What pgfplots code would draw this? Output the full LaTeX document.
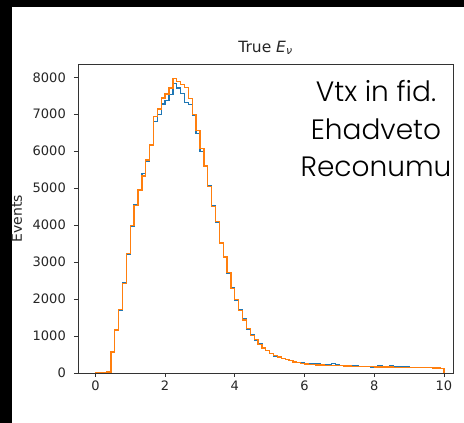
\documentclass[border=0pt]{standalone}
\usepackage{fontspec}
\setmainfont{DejaVu Sans}
\newfontfamily\ral{Poppins Light}
\usepackage{pgfplots}
\pgfplotsset{compat=1.18}
\usepackage{pgfplotstable}
\definecolor{mplblue}{HTML}{1F77B4}
\definecolor{mplorange}{HTML}{FF7F0E}
\definecolor{tickgray}{HTML}{262626}

% bin left edges (90 bins of 1/9 between 0 and 10), last row closes the step
\pgfplotstableread{
x      orange blue
0.0000 0    0
0.1111 0    0
0.2222 0    0
0.3333 30   40
0.4444 570  590
0.5556 1160 1150
0.6667 1720 1700
0.7778 2420 2440
0.8889 3240 3220
1.0000 3990 3960
1.1111 4540 4560
1.2222 4950 4930
1.3333 5330 5400
1.4444 5760 5720
1.5556 6170 6150
1.6667 6940 6800
1.7778 7140 7000
1.8889 7440 7280
2.0000 7550 7380
2.1111 7710 7530
2.2222 7960 7840
2.3333 7890 7710
2.4444 7800 7560
2.5556 7720 7320
2.6667 7420 7260
2.7778 7000 6960
2.8889 6560 6480
3.0000 6080 6000
3.1111 5600 5580
3.2222 5040 5060
3.3333 4500 4520
3.4444 4090 4070
3.5556 3520 3540
3.6667 3140 3160
3.7778 2710 2690
3.8889 2290 2320
4.0000 1990 1970
4.1111 1700 1720
4.2222 1430 1480
4.3333 1200 1180
4.4444 1020 1040
4.5556 900  880
4.6667 780  790
4.7778 680  660
4.8889 600  610
5.0000 520  530
5.1111 470  460
5.2222 430  440
5.3333 390  390
5.4444 360  370
5.5556 330  340
5.6667 300  320
5.7778 280  290
5.8889 255  270
6.0000 240  260
6.1111 230  250
6.2222 225  240
6.3333 220  260
6.4444 215  230
6.5556 210  225
6.6667 205  230
6.7778 205  260
6.8889 200  230
7.0000 195  210
7.1111 190  200
7.2222 190  195
7.3333 185  195
7.4444 185  190
7.5556 180  185
7.6667 180  180
7.7778 175  170
7.8889 170  165
8.0000 165  175
8.1111 165  200
8.2222 160  170
8.3333 160  180
8.4444 160  200
8.5556 155  170
8.6667 155  165
8.7778 150  160
8.8889 150  160
9.0000 150  155
9.1111 145  155
9.2222 145  150
9.3333 140  150
9.4444 140  150
9.5556 140  145
9.6667 135  140
9.7778 135  135
9.8889 130  130
10.0000 130 130
10.0000 0   0
}\hist

\begin{document}
\begin{tikzpicture}
\fill[black] (0pt,0pt) rectangle (464pt,423pt);
\fill[white] (12pt,0pt) rectangle (464pt,416pt);
\useasboundingbox (0pt,0pt) rectangle (464pt,423pt);
\begin{axis}[
    at={(78pt,50pt)}, anchor=south west,
    scale only axis,
    width=375pt, height=309pt,
    xmin=-0.5, xmax=10.26,
    ymin=0, ymax=8360,
    xtick={0,2,4,6,8,10},
    ytick={0,1000,2000,3000,4000,5000,6000,7000,8000},
    tick align=outside,
    tick pos=left,
    major tick length=4pt,
    tick style={black!80, line width=0.8pt},
    axis line style={black!80, line width=0.8pt},
    /pgf/number format/assume math mode=true,
    /pgf/number format/1000 sep={},
    every tick label/.append style={font=\fontsize{13}{15}\selectfont, text=tickgray},
    every y tick label/.append style={inner xsep=6pt, xshift=-2pt},
    every axis label/.append style={font=\fontsize{14}{16}\selectfont, text=tickgray},
    every axis title/.append style={font=\fontsize{15.5}{18}\selectfont, text=tickgray},
    ylabel={Events},
    ylabel style={yshift=1pt},
    title={True \textit{E}\textsubscript{\textit{ν}}},
]
\addplot[const plot, mplblue, line width=1.3pt] table[x=x, y=blue] {\hist};
\addplot[const plot, mplorange, line width=1.3pt] table[x=x, y=orange] {\hist};
\end{axis}
\node[anchor=base, font=\ral\fontsize{28}{34}\selectfont] at (376pt,321pt) {Vtx in fid.};
\node[anchor=base, font=\ral\fontsize{28}{34}\selectfont] at (376pt,283pt) {Ehadveto};
\node[anchor=base, font=\ral\fontsize{28}{34}\selectfont] at (376pt,246pt) {Reconumu};
\end{tikzpicture}
\end{document}
